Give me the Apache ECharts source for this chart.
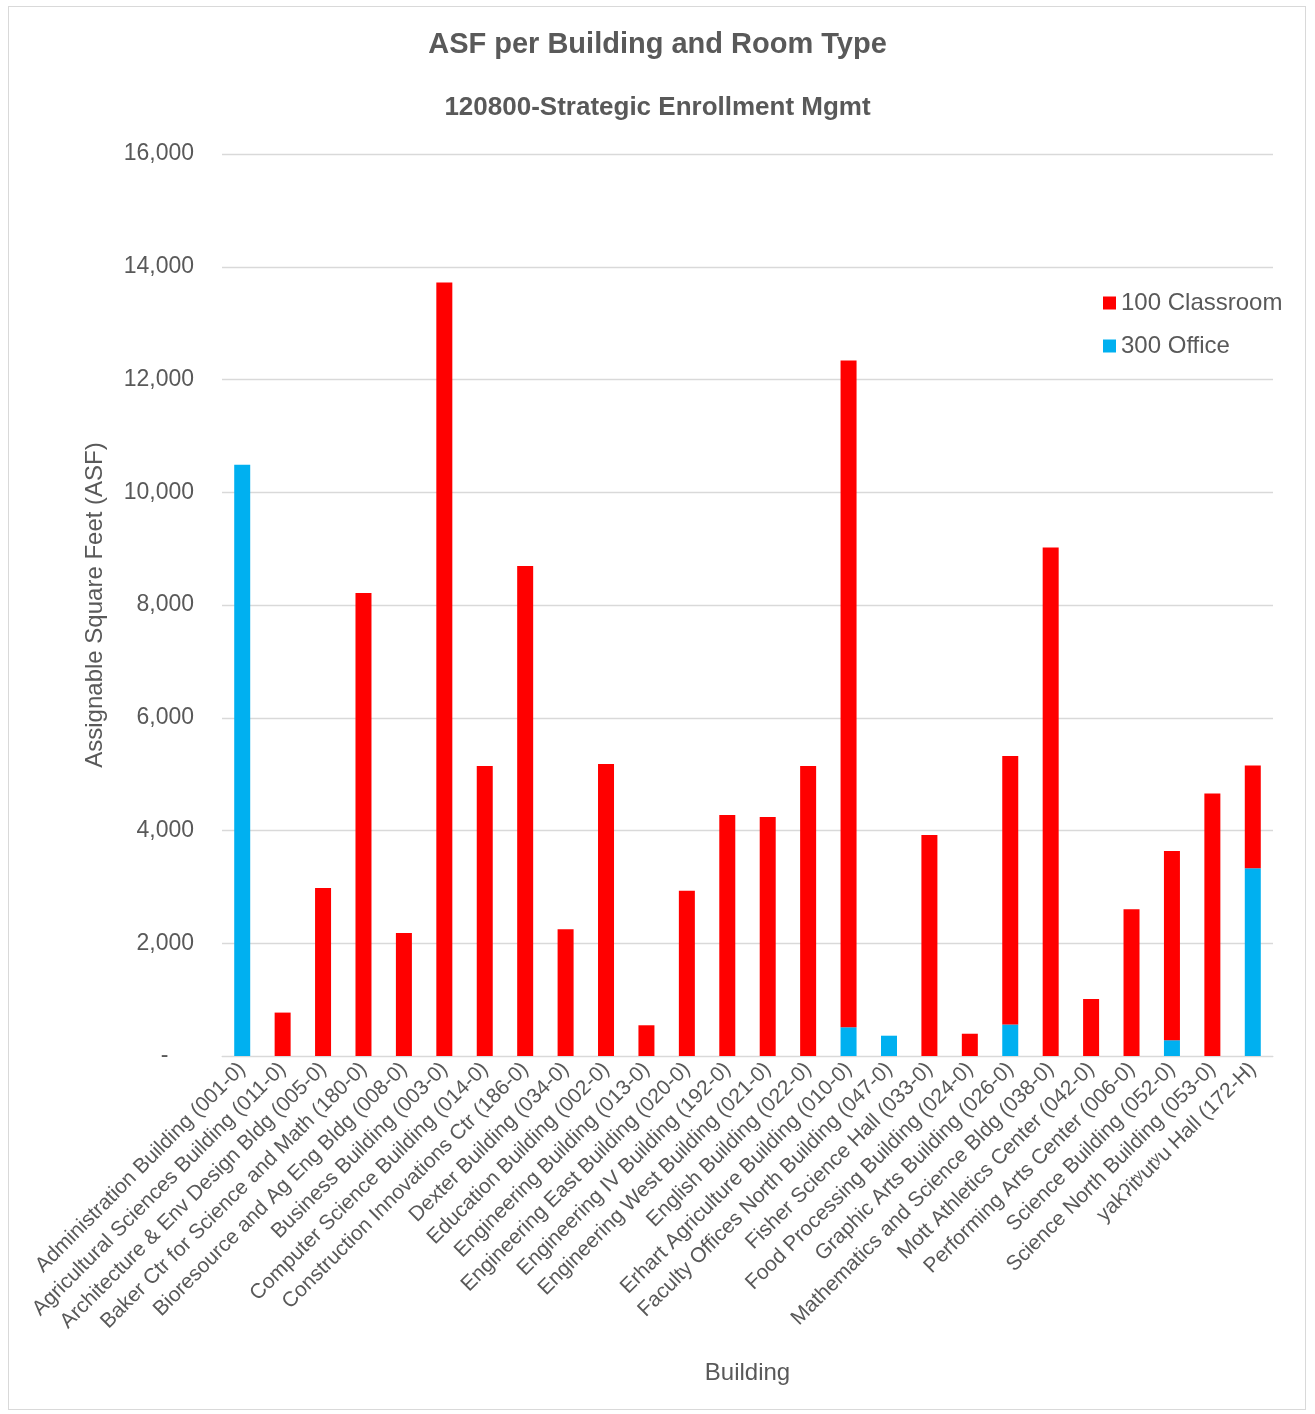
<!DOCTYPE html>
<html>
<head>
<meta charset="utf-8">
<script src="https://cdn.jsdelivr.net/npm/echarts@6/dist/echarts.min.js"></script>
<style>
html,body{margin:0;padding:0;background:#fff;}
#frame{position:absolute;left:8px;top:6px;width:1298px;height:1404px;border:1px solid #d9d9d9;box-sizing:border-box;}
#chart{position:absolute;left:0;top:0;width:1315px;height:1414px;}
</style>
</head>
<body>
<div id="frame"></div>
<div id="chart"></div>
<script>
const buildings = [
  "Administration Building (001-0)",
  "Agricultural Sciences Building (011-0)",
  "Architecture & Env Design Bldg (005-0)",
  "Baker Ctr for Science and Math (180-0)",
  "Bioresource and Ag Eng Bldg (008-0)",
  "Business Building (003-0)",
  "Computer Science Building (014-0)",
  "Construction Innovations Ctr (186-0)",
  "Dexter Building (034-0)",
  "Education Building (002-0)",
  "Engineering Building (013-0)",
  "Engineering East Building (020-0)",
  "Engineering IV Building (192-0)",
  "Engineering West Building (021-0)",
  "English Building (022-0)",
  "Erhart Agriculture Building (010-0)",
  "Faculty Offices North Building (047-0)",
  "Fisher Science Hall (033-0)",
  "Food Processing Building (024-0)",
  "Graphic Arts Building (026-0)",
  "Mathematics and Science Bldg (038-0)",
  "Mott Athletics Center (042-0)",
  "Performing Arts Center (006-0)",
  "Science Building (052-0)",
  "Science North Building (053-0)",
  "yakʔitʸutʸu Hall (172-H)"
];
const classroom = [null, 770, 2980, 8215, 2180, 13720, 5145, 8690, 2250, 5180, 545, 2930, 4275, 4240, 5145, 11825, null, 3920, 395, 4760, 9020, 1010, 2605, 3355, 4655, 1825];
const office = [10490, null, null, null, null, null, null, null, null, null, null, null, null, null, null, 510, 360, null, null, 560, null, null, null, 280, null, 3330];
const yTicks = { min: 0, max: 16000, interval: 2000 };

const txt = '#595959';
const font = '"Liberation Sans", Arial, sans-serif';
const chart = echarts.init(document.getElementById('chart'), null, { renderer: 'canvas' });
chart.setOption({
  backgroundColor: 'transparent',
  textStyle: { fontFamily: font, color: txt },
  title: [
    { text: 'ASF per Building and Room Type', left: 'center', top: 25,
      textStyle: { fontFamily: font, fontSize: 29, fontWeight: 'bold', color: txt } },
    { text: '120800-Strategic Enrollment Mgmt', left: 'center', top: 90,
      textStyle: { fontFamily: font, fontSize: 26, fontWeight: 'bold', color: txt } }
  ],
  legend: {
    orient: 'vertical', left: 1098, top: 286, itemWidth: 13, itemHeight: 13, itemGap: 19,
    icon: 'rect',
    data: ['100 Classroom', '300 Office'],
    textStyle: { fontFamily: font, fontSize: 24, color: txt }
  },
  grid: { left: 222, right: 42, top: 154, bottom: 358, containLabel: false },
  xAxis: {
    type: 'category', data: buildings,
    name: 'Building', nameLocation: 'middle', nameGap: 305,
    nameTextStyle: { fontFamily: font, fontSize: 24, color: txt },
    axisLine: { lineStyle: { color: '#d9d9d9', width: 1 } },
    axisTick: { show: false },
    axisLabel: { interval: 0, rotate: 45, fontFamily: font, fontSize: 21, color: txt, margin: 10 }
  },
  yAxis: {
    type: 'value', min: yTicks.min, max: yTicks.max, interval: yTicks.interval,
    name: 'Assignable Square Feet (ASF)', nameLocation: 'middle', nameGap: 115,
    nameTextStyle: { fontFamily: font, fontSize: 24, color: txt },
    axisLine: { show: false }, axisTick: { show: false },
    splitLine: { lineStyle: { color: '#d9d9d9', width: 1.3 } },
    axisLabel: {
      fontFamily: font, fontSize: 23, color: txt, margin: 28,
      formatter: v => v === 0 ? '-    ' : v.toLocaleString('en-US')
    }
  },
  series: [
    { name: '300 Office', type: 'bar', stack: 'asf', data: office, barWidth: 16,
      itemStyle: { color: '#00b0f0' } },
    { name: '100 Classroom', type: 'bar', stack: 'asf', data: classroom, barWidth: 16,
      itemStyle: { color: '#ff0000' } }
  ]
});
</script>
</body>
</html>
